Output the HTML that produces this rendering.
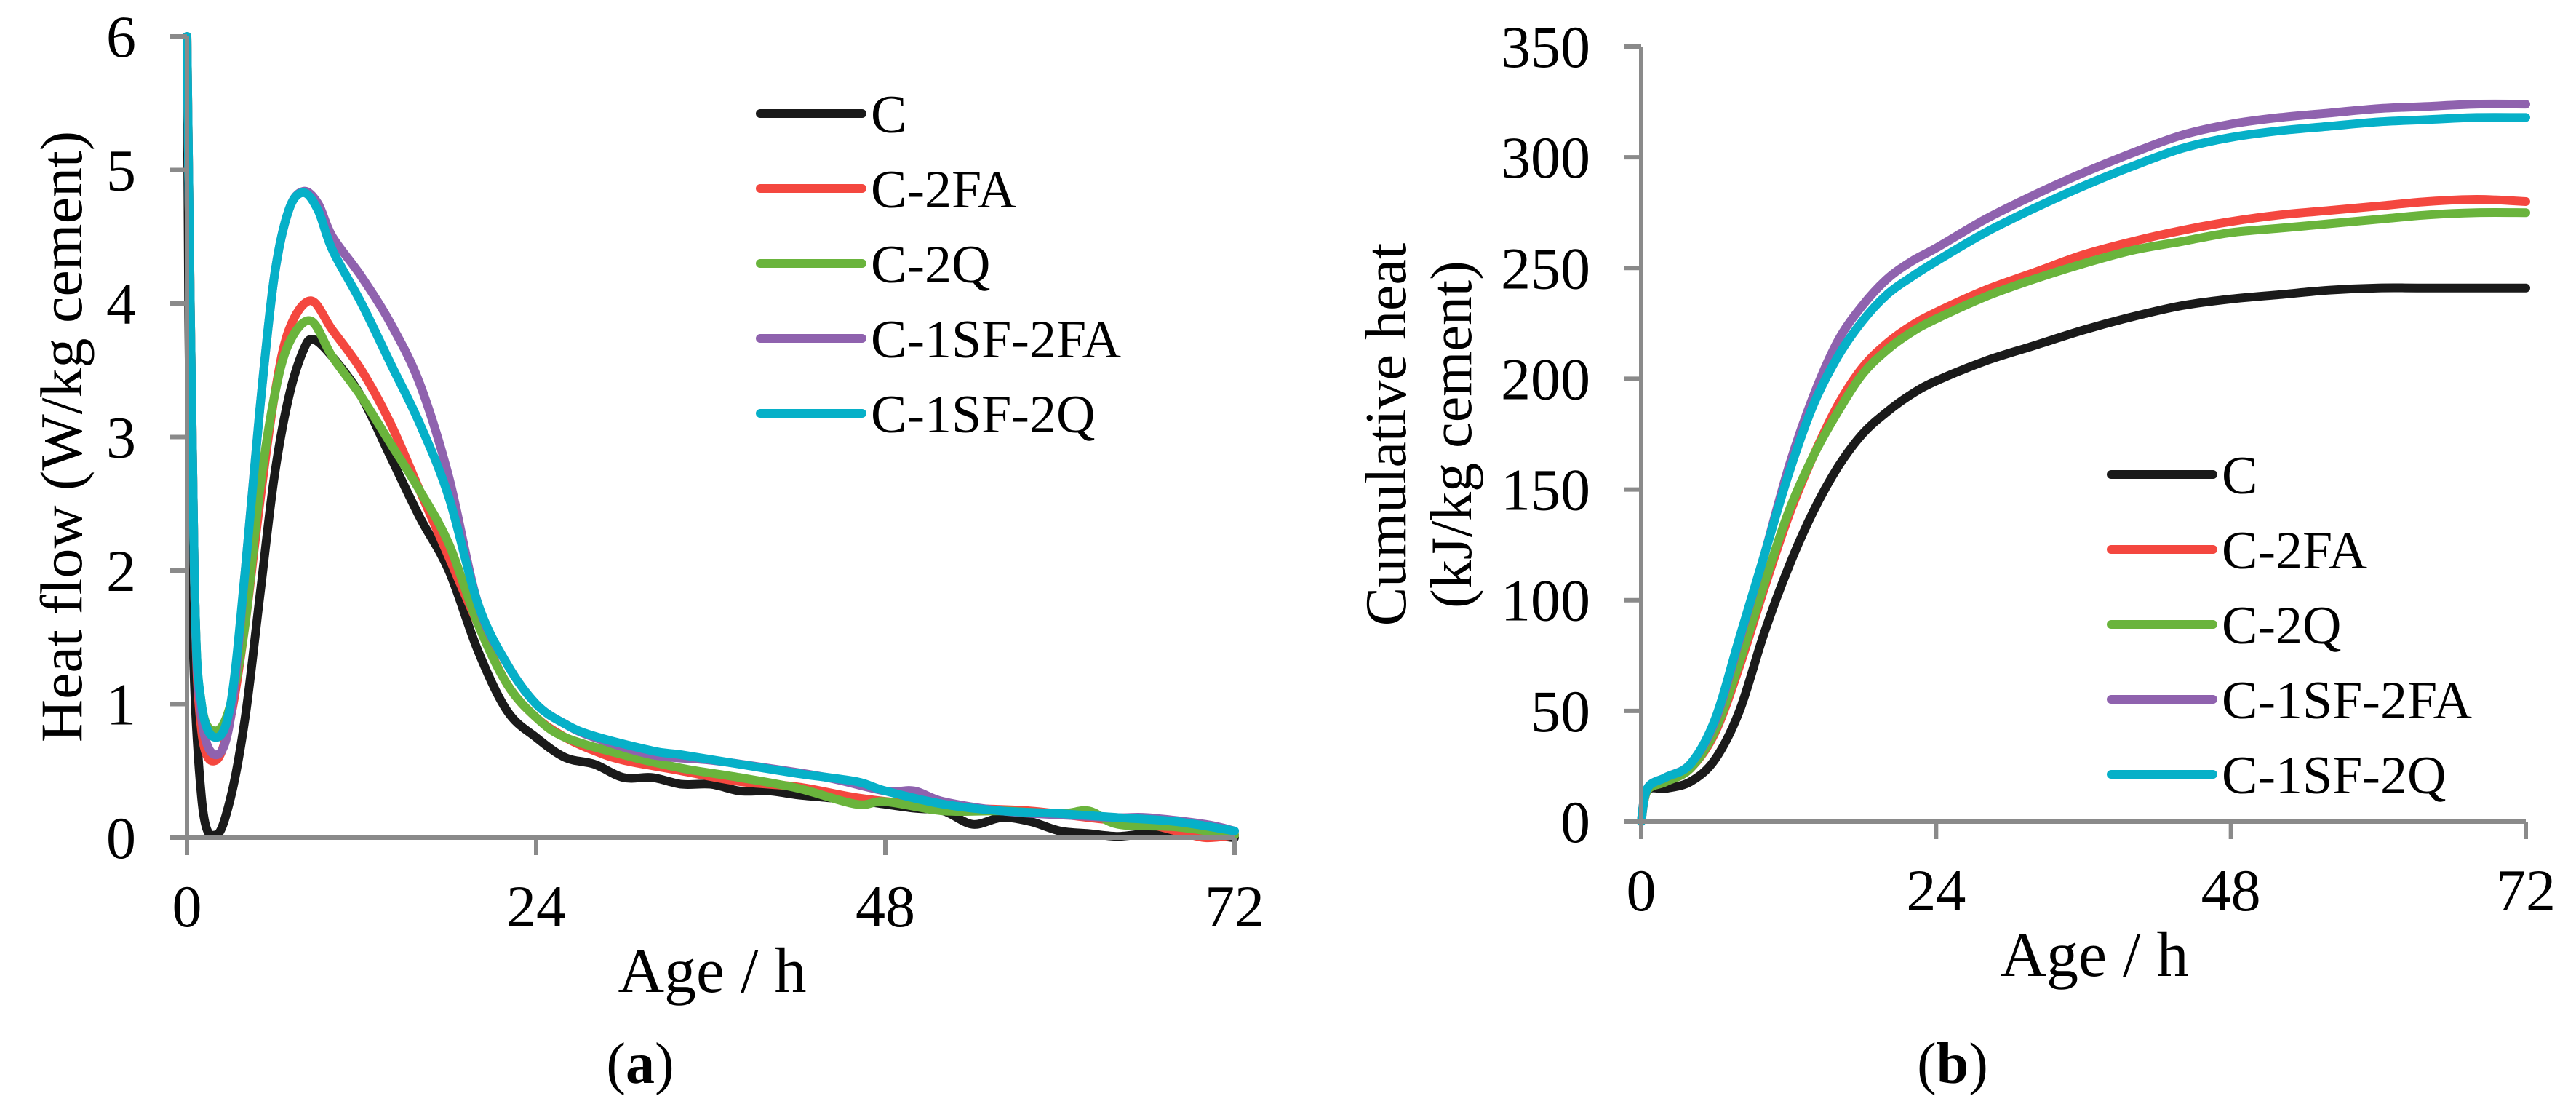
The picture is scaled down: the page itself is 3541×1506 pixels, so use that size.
<!DOCTYPE html>
<html><head><meta charset="utf-8"><style>
html,body{margin:0;padding:0;background:#fff;}
svg{display:block;font-family:"Liberation Serif",serif;}
</style></head><body>
<svg id="fig" width="3541" height="1506" viewBox="0 0 3541 1506" xmlns="http://www.w3.org/2000/svg">
<g id="ga"></g>
<g id="gb"></g>
</svg>
<script>
const seriesNames = ["C","C-2FA","C-2Q","C-1SF-2FA","C-1SF-2Q"];
const seriesColors = ["#1a1a1a","#f4473f","#6ab43c","#8f62ae","#06b0c8"];
const xTicks = [0,24,48,72];
const yTicksA = [0,1,2,3,4,5,6];
const yTicksB = [0,50,100,150,200,250,300,350];

const flowC = [[0,6],[0.3,2],[1,0.3],[2,0.02],[3,0.3],[4,0.9],[5,1.8],[6,2.7],[7,3.3],[8,3.65],[8.7,3.73],[10,3.6],[12,3.3],[14,2.85],[16,2.4],[18,2.0],[20,1.4],[22,0.95],[24,0.75],[26,0.6],[28,0.55],[30,0.45],[32,0.45],[34,0.4],[36,0.4],[38,0.35],[40,0.35],[42,0.32],[44,0.3],[46,0.28],[48,0.25],[50,0.22],[52,0.2],[54,0.1],[56,0.15],[58,0.12],[60,0.05],[62,0.03],[64,0.01],[66,0.03],[68,0.02],[70,0.02],[72,0.0]];
const flow2FA = [[0,6],[0.5,2],[1,0.8],[2,0.58],[3,0.9],[4,1.6],[5,2.5],[6,3.3],[7,3.8],[8.5,4.02],[10,3.8],[12,3.5],[14,3.1],[16,2.6],[18,2.1],[20,1.6],[22,1.15],[24,0.9],[26,0.75],[28,0.65],[30,0.58],[34,0.5],[38,0.42],[42,0.38],[46,0.3],[50,0.25],[54,0.22],[58,0.2],[62,0.15],[66,0.1],[68,0.05],[70,0.0],[72,0.02]];
const flow2Q = [[0,6],[0.5,2],[1,1],[2,0.8],[3,1.0],[4,1.6],[5,2.6],[6,3.3],[7,3.7],[8.5,3.87],[10,3.6],[12,3.3],[14,2.95],[16,2.6],[18,2.2],[20,1.6],[22,1.15],[24,0.9],[26,0.75],[30,0.62],[34,0.52],[38,0.45],[42,0.37],[46,0.25],[48,0.27],[52,0.2],[56,0.2],[60,0.18],[62,0.2],[64,0.1],[68,0.08],[72,0.02]];
const flowSF2FA = [[0,6],[0.5,2],[1,0.9],[2,0.62],[3,0.9],[4,2.0],[5,3.2],[6,4.2],[7,4.7],[8,4.84],[9,4.75],[10,4.5],[12,4.2],[14,3.85],[16,3.4],[18,2.7],[20,1.75],[22,1.3],[24,1.0],[26,0.85],[28,0.75],[32,0.62],[36,0.58],[40,0.52],[44,0.45],[48,0.35],[50,0.35],[52,0.27],[56,0.2],[60,0.17],[64,0.15],[66,0.15],[70,0.1],[72,0.05]];
const flowSF2Q = [[0,6],[0.5,2],[1,1],[2,0.75],[3,1.0],[4,2.0],[5,3.2],[6,4.2],[7,4.7],[8,4.83],[9,4.7],[10,4.4],[12,4.0],[14,3.55],[16,3.1],[18,2.55],[20,1.75],[22,1.3],[24,1.0],[26,0.85],[28,0.76],[32,0.65],[34,0.62],[38,0.55],[42,0.48],[46,0.42],[48,0.35],[52,0.25],[56,0.2],[60,0.18],[64,0.15],[68,0.12],[72,0.05]];

const cumC = [[0,0],[0.5,14],[2,15],[4,18],[6,28],[8,50],[10,85],[12,115],[14,140],[16,160],[18,175],[20,185],[22,193],[24,199],[28,208],[32,215],[36,222],[40,228],[44,233],[48,236],[52,238],[56,240],[60,241],[64,241],[72,241]];
const cum2FA = [[0,0],[0.5,14],[2,18],[4,24],[6,40],[8,70],[10,105],[12,138],[14,165],[16,188],[18,205],[20,216],[22,224],[24,230],[28,240],[32,248],[36,256],[40,262],[44,267],[48,271],[52,274],[56,276],[60,278],[64,280],[68,281],[72,280]];
const cum2Q = [[0,0],[0.5,14],[2,18],[4,24],[6,41],[8,72],[10,107],[12,140],[14,165],[16,185],[18,202],[20,213],[22,221],[24,227],[28,237],[32,245],[36,252],[40,258],[44,262],[48,266],[52,268],[56,270],[60,272],[64,274],[68,275],[72,275]];
const cumSF2FA = [[0,0],[0.5,15],[2,20],[4,26],[6,45],[8,82],[10,120],[12,160],[14,192],[16,217],[18,233],[20,245],[22,253],[24,259],[28,272],[32,283],[36,293],[40,302],[44,310],[48,315],[52,318],[56,320],[60,322],[64,323],[68,324],[72,324]];
const cumSF2Q = [[0,0],[0.5,15],[2,20],[4,26],[6,46],[8,83],[10,120],[12,157],[14,188],[16,210],[18,226],[20,238],[22,246],[24,253],[28,266],[32,277],[36,287],[40,296],[44,304],[48,309],[52,312],[56,314],[60,316],[64,317],[68,318],[72,318]];

const NS="http://www.w3.org/2000/svg";
function mk(parent,tag,attrs,text){const e=document.createElementNS(NS,tag);for(const k in attrs)e.setAttribute(k,attrs[k]);if(text!==undefined)e.textContent=text;parent.appendChild(e);return e;}
function smooth(pts){let d="M"+pts[0][0].toFixed(1)+","+pts[0][1].toFixed(1);
for(let i=0;i<pts.length-1;i++){const p0=pts[i-1]||pts[i],p1=pts[i],p2=pts[i+1],p3=pts[i+2]||p2;
const c1=[p1[0]+(p2[0]-p0[0])/6,p1[1]+(p2[1]-p0[1])/6],c2=[p2[0]-(p3[0]-p1[0])/6,p2[1]-(p3[1]-p1[1])/6];
d+=" C"+c1[0].toFixed(1)+","+c1[1].toFixed(1)+" "+c2[0].toFixed(1)+","+c2[1].toFixed(1)+" "+p2[0].toFixed(1)+","+p2[1].toFixed(1);}return d;}

function chart(g,cfg){
  const xs=v=>cfg.x0+(v-0)/72*(cfg.x1-cfg.x0);
  const ys=v=>cfg.y0-(v/cfg.ymax)*(cfg.y0-cfg.y1);
  const dataArr=cfg.data;
  dataArr.forEach((s,i)=>{
    const p=mk(g,"path",{d:smooth(s.map(q=>[xs(q[0]),ys(q[1])])),fill:"none",stroke:seriesColors[i],"stroke-width":12,"stroke-linejoin":"round","stroke-linecap":"round"});
    
    
  });
  const ax=mk(g,"g",{stroke:"#8a8a8a","stroke-width":6,fill:"none"});
  
  
  mk(ax,"line",{x1:cfg.x0,y1:ys(cfg.ymax),x2:cfg.x0,y2:cfg.y0});
  mk(ax,"line",{x1:cfg.x0,y1:cfg.y0,x2:cfg.x1,y2:cfg.y0});
  cfg.yt.forEach(v=>{mk(ax,"line",{x1:cfg.x0-24,y1:ys(v),x2:cfg.x0,y2:ys(v)});
    const t=mk(g,"text",{x:cfg.x0-70,y:ys(v)+28,"text-anchor":"end","font-size":82,fill:"#000"},String(v));
    
    });
  xTicks.forEach(v=>{mk(ax,"line",{x1:xs(v),y1:cfg.y0,x2:xs(v),y2:cfg.y0+24});
    const t=mk(g,"text",{x:xs(v),y:cfg.y0+122,"text-anchor":"middle","font-size":82,fill:"#000"},String(v));
    
    });
  const xt=mk(g,"text",{x:cfg.xtx,y:cfg.y0+212,"text-anchor":"middle","font-size":88,fill:"#000"},"Age / h");
  
  
  cfg.ytitle.forEach((s,k)=>{
    const t=mk(g,"text",{x:0,y:0,transform:"translate("+cfg.ytx[k]+","+cfg.yty+") rotate(-90)","text-anchor":"middle","font-size":cfg.ytfs,fill:"#000"},s);
    
    
  });
  seriesNames.forEach((n,i)=>{
    const ly=cfg.ly+i*103;
    const lg=mk(g,"g",{});
    
    
    mk(lg,"line",{x1:cfg.lx,y1:ly,x2:cfg.lx+140,y2:ly,stroke:seriesColors[i],"stroke-width":12,"stroke-linecap":"round"});
    mk(lg,"text",{x:cfg.lx+152,y:ly+26,"font-size":74,fill:"#000"},n);
  });
  const cap=mk(g,"text",{x:cfg.capx,y:1488,"text-anchor":"middle","font-size":80,fill:"#000"});
  
  
  mk(cap,"tspan",{},"(");mk(cap,"tspan",{"font-weight":"bold"},cfg.cap);mk(cap,"tspan",{},")");
}
chart(document.getElementById("ga"),{x0:257,x1:1697,y0:1151,y1:50,ymax:6,yt:yTicksA,data:[flowC,flow2FA,flow2Q,flowSF2FA,flowSF2Q],
  xtx:979,ytitle:["Heat flow (W/kg cement)"],ytx:[112],yty:600,ytfs:82,lx:1045,ly:156,capx:880,cap:"a"});
chart(document.getElementById("gb"),{x0:2256,x1:3472,y0:1129,y1:64,ymax:350,yt:yTicksB,data:[cumC,cum2FA,cum2Q,cumSF2FA,cumSF2Q],
  xtx:2879,ytitle:["Cumulative heat","(kJ/kg cement)"],ytx:[1932,2022],yty:597,ytfs:80,lx:2902,ly:652,capx:2684,cap:"b"});
</script>
</body></html>
